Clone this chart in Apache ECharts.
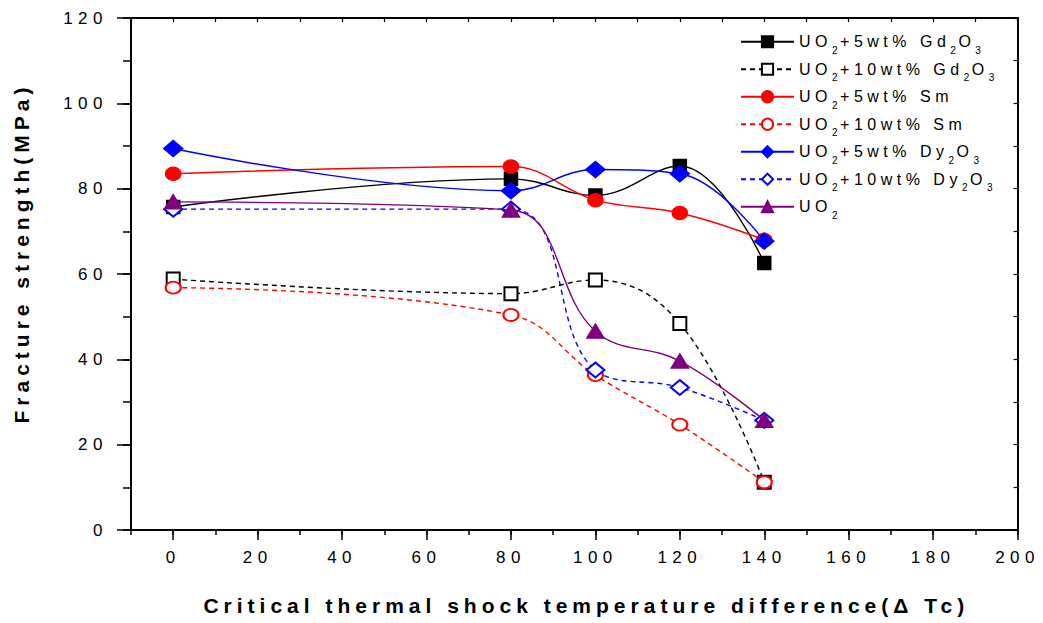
<!DOCTYPE html>
<html><head><meta charset="utf-8">
<script src="https://cdn.jsdelivr.net/npm/echarts@6/dist/echarts.min.js"></script>
<style>html,body{margin:0;padding:0;background:#fff}#chart{width:1043px;height:623px}</style>
</head><body><div id="chart"></div>
<script>
// ---- data ----
const xValues = [0, 80, 100, 120, 140];
const gd5  = [75.7, 82.3, 78.4, 85.3, 62.6];
const gd10 = [58.8, 55.4, 58.6, 48.4, 11.2];
const sm5  = [83.5, 85.2, 77.3, 74.3, 68.0];
const sm10 = [56.8, 50.4, 36.3, 24.7, 11.2];
const dy5  = [89.4, 79.5, 84.5, 83.5, 67.7];
const dy10 = [75.2, 75.2, 37.5, 33.4, 25.7];
const uo2  = [76.9, 75.0, 46.6, 39.6, 25.7];
const xTickLabels = [0, 20, 40, 60, 80, 100, 120, 140, 160, 180, 200];
const yTickLabels = [0, 20, 40, 60, 80, 100, 120];
const xMinorTicks = [-10, 10, 30, 50, 70, 90, 110, 130, 150, 170, 190];
const yMinorTicks = [10, 30, 50, 70, 90, 110];
const seriesNames = ['UO2+5wt% Gd2O3', 'UO2+10wt% Gd2O3', 'UO2+5wt% Sm', 'UO2+10wt% Sm', 'UO2+5wt% Dy2O3', 'UO2+10wt% Dy2O3', 'UO2'];
const legendRich = {
  'UO2+5wt% Gd2O3': 'UO{s|2}+5wt% Gd{s|2}O{s|3}',
  'UO2+10wt% Gd2O3': 'UO{s|2}+10wt% Gd{s|2}O{s|3}',
  'UO2+5wt% Sm': 'UO{s|2}+5wt% Sm',
  'UO2+10wt% Sm': 'UO{s|2}+10wt% Sm',
  'UO2+5wt% Dy2O3': 'UO{s|2}+5wt% Dy{s|2}O{s|3}',
  'UO2+10wt% Dy2O3': 'UO{s|2}+10wt% Dy{s|2}O{s|3}',
  'UO2': 'UO{s|2}'
};
const xName = 'Critical thermal shock temperature difference(\u0394 Tc)';
const yName = 'Fracture strength(MPa)';

// ---- text spacing (reference text is wide) ----
const FONT = '"Liberation Sans", Arial, sans-serif';
function spacingFor(size, bold) {
  if (bold) return 5;
  if (size >= 17) return 5.5;
  if (size >= 14) return 4.5;
  return 2.5;
}
function parseFont(font) {
  const m = /(\d+(?:\.\d+)?)px/.exec(font || '');
  return { size: m ? parseFloat(m[1]) : 12, bold: /bold|[6-9]00/.test(font || '') };
}
const mctx = document.createElement('canvas').getContext('2d');
try {
  echarts.setPlatformAPI({
    measureText: function (text, font) {
      mctx.font = font || '12px sans-serif';
      const tm = mctx.measureText(text);
      const f = parseFont(font);
      return {
        width: tm.width + spacingFor(f.size, f.bold) * String(text).length,
        actualBoundingBoxAscent: tm.actualBoundingBoxAscent,
        actualBoundingBoxDescent: tm.actualBoundingBoxDescent,
        actualBoundingBoxLeft: tm.actualBoundingBoxLeft,
        actualBoundingBoxRight: tm.actualBoundingBoxRight,
        fontBoundingBoxAscent: tm.fontBoundingBoxAscent,
        fontBoundingBoxDescent: tm.fontBoundingBoxDescent
      };
    }
  });
} catch (e) {}

function applySpacing() {
  document.querySelectorAll('#chart svg text').forEach(function (t) {
    const cs = getComputedStyle(t);
    const size = parseFloat(cs.fontSize);
    const bold = parseInt(cs.fontWeight, 10) >= 600;
    t.style.letterSpacing = spacingFor(size, bold) + 'px';
  });
}

const chart = echarts.init(document.getElementById('chart'), null, { renderer: 'svg' });
chart.on('finished', applySpacing);

function mk(arr) { return xValues.map(function (x, i) { return [x, arr[i]]; }); }
const styles = [
  { data: gd5,  color: '#000000', type: 'solid',  symbol: 'rect',         size: [13, 13] },
  { data: gd10, color: '#000000', type: 'dashed', symbol: 'emptyRect',    size: [13, 13] },
  { data: sm5,  color: '#ff0000', type: 'solid',  symbol: 'circle',       size: [15, 13] },
  { data: sm10, color: '#ff0000', type: 'dashed', symbol: 'emptyCircle',  size: [15, 12] },
  { data: dy5,  color: '#0000ff', type: 'solid',  symbol: 'diamond',      size: [19, 16] },
  { data: dy10, color: '#0000ff', type: 'dashed', symbol: 'emptyDiamond', size: [18, 15] },
  { data: uo2,  color: '#800080', type: 'solid',  symbol: 'triangle',     size: [17, 14] }
];

const series = styles.map(function (s, i) {
  return {
    name: seriesNames[i],
    type: 'line',
    xAxisIndex: 0, yAxisIndex: 0,
    data: mk(s.data),
    smooth: 0.4,
    symbol: s.symbol,
    symbolSize: s.size,
    showAllSymbol: true,
    lineStyle: { color: s.color, width: 1.4, type: s.type === 'dashed' ? [5, 4] : 'solid' },
    itemStyle: { color: s.color, borderColor: s.color, borderWidth: 1.5 },
    emphasis: { disabled: true },
    z: 2 + i
  };
});

const axisLineStyle = { color: '#000', width: 2 };
const labelStyle = { color: '#000', fontFamily: FONT, fontSize: 17 };

chart.setOption({
  animation: false,
  backgroundColor: '#fff',
  grid: { left: 127, right: 25, top: 18, bottom: 91, containLabel: false },
  legend: {
    orient: 'vertical',
    left: 735, top: 22,
    itemWidth: 53, itemHeight: 14, itemGap: -2,
    data: seriesNames,
    formatter: function (n) { return legendRich[n]; },
    textStyle: {
      fontFamily: FONT, fontSize: 16, color: '#000', lineHeight: 27,
      rich: { s: { fontFamily: FONT, fontSize: 10, color: '#000', lineHeight: 10, padding: [17, 0, 0, 0] } }
    }
  },
  xAxis: [
    {
      type: 'value', position: 'bottom', min: -10, max: 200, interval: 10, offset: 0,
      axisLine: { show: true, onZero: false, lineStyle: axisLineStyle },
      axisTick: { show: true, inside: false, length: 5, lineStyle: { color: '#000', width: 1.5 } },
      axisLabel: { show: true, customValues: xTickLabels, margin: 16, ...labelStyle },
      splitLine: { show: false },
      name: xName, nameLocation: 'middle', nameGap: 62,
      nameTextStyle: { fontFamily: FONT, fontSize: 21, fontWeight: 'bold', color: '#000', padding: [0, 0, 0, 24] }
    },
    {
      type: 'value', position: 'bottom', min: -10, max: 200, offset: 0,
      axisLine: { show: false, onZero: false },
      axisTick: { show: true, inside: false, length: 10, customValues: xTickLabels, lineStyle: { color: '#000', width: 1.5 } },
      axisLabel: { show: false },
      splitLine: { show: false }
    },
    {
      type: 'value', position: 'top', min: -10, max: 200, interval: 10, offset: 0,
      axisLine: { show: true, onZero: false, lineStyle: axisLineStyle },
      axisTick: { show: true, inside: true, length: 4, lineStyle: { color: '#000', width: 1.2 } },
      axisLabel: { show: false },
      splitLine: { show: false }
    }
  ],
  yAxis: [
    {
      type: 'value', position: 'left', min: 0, max: 120, interval: 10, offset: 0,
      axisLine: { show: true, onZero: false, lineStyle: axisLineStyle },
      axisTick: { show: true, inside: false, length: 8, lineStyle: { color: '#000', width: 1.5 } },
      axisLabel: { show: true, customValues: yTickLabels, margin: 23, ...labelStyle },
      splitLine: { show: false },
      name: yName, nameLocation: 'middle', nameGap: 97, nameRotate: 90,
      nameTextStyle: { fontFamily: FONT, fontSize: 21, fontWeight: 'bold', color: '#000', padding: [0, 0, 0, 42] }
    },
    {
      type: 'value', position: 'left', min: 0, max: 120, offset: 0,
      axisLine: { show: false, onZero: false },
      axisTick: { show: true, inside: false, length: 14, customValues: yTickLabels, lineStyle: { color: '#000', width: 1.5 } },
      axisLabel: { show: false },
      splitLine: { show: false }
    },
    {
      type: 'value', position: 'right', min: 0, max: 120, interval: 10, offset: 0,
      axisLine: { show: true, onZero: false, lineStyle: axisLineStyle },
      axisTick: { show: true, inside: true, length: 4, lineStyle: { color: '#000', width: 1.2 } },
      axisLabel: { show: false },
      splitLine: { show: false }
    }
  ],
  series: series
});
applySpacing();
</script>
</body></html>
